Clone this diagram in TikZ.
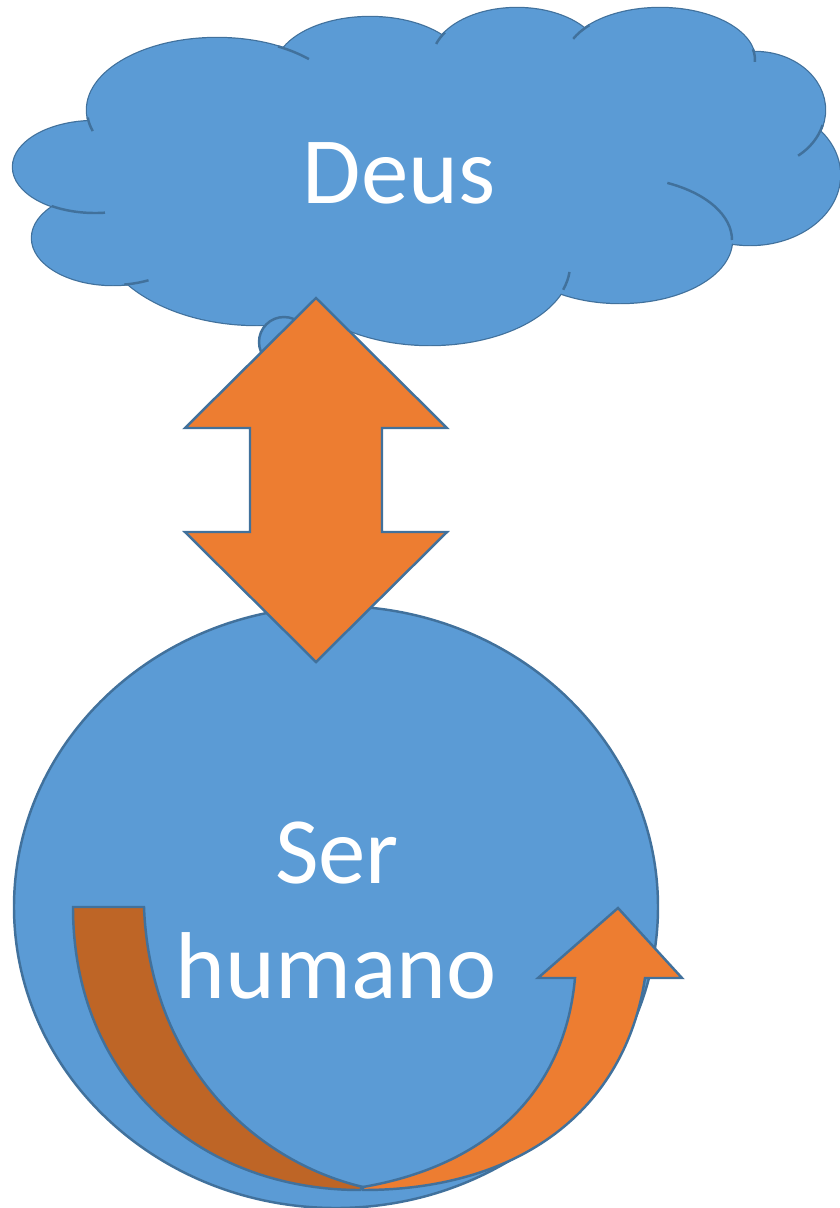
\documentclass[tikz,border=0pt]{standalone}
\usepackage{fontspec}
\setmainfont{Carlito}
\definecolor{skyfill}{HTML}{5B9BD5}
\definecolor{edgeblue}{HTML}{41719C}
\definecolor{arroworange}{HTML}{ED7D31}
\definecolor{arrowshade}{HTML}{BE6526}

\begin{document}
\begin{tikzpicture}
[x=0.01cm,y=0.01cm,line join=miter,%
  shape edge/.style={draw=edgeblue,line width=0.7pt},%
  puff/.style={shape edge,fill=skyfill},%
  puff fill/.style={fill=skyfill},%
  arrow body/.style={shape edge,fill=arroworange},%
  arrow back/.style={shape edge,fill=arrowshade},%
  every node/.style={text=white,inner sep=0pt,font=\fontsize{27}{32}\selectfont}]
\useasboundingbox (0,0) rectangle (840,-1208);
\foreach \cx/\cy/\rx/\ry in {217/110/130/72,370/70/95/53,517/60/85/52,660/60/95/52,
    755/110/70/58,750/175/90/70,620/240/112/63,430/265/140/80,257/225/160/100,
    113/238/81/47,95/167/82/46}
  \draw[puff] (\cx,-\cy) ellipse [x radius=\rx,y radius=\ry];
\foreach \cx/\cy/\rx/\ry in {217/110/130/72,370/70/95/53,517/60/85/52,660/60/95/52,
    755/110/70/58,750/175/90/70,620/240/112/63,430/265/140/80,257/225/160/100,
    113/238/81/47,95/167/82/46,430/175/320/110}
  \fill[puff fill] (\cx,-\cy) ellipse [x radius=\rx,y radius=\ry];
\draw[shape edge] (217,-110) ++(62:130 and 72) arc [start angle=62,end angle=45,x radius=130,y radius=72];
\draw[shape edge] (217,-110) ++(186:130 and 72) arc [start angle=186,end angle=197,x radius=130,y radius=72];
\draw[shape edge] (95,-167) ++(238:82 and 46) arc [start angle=238,end angle=277,x radius=82,y radius=46];
\draw[shape edge] (113,-238) ++(278:81 and 47) arc [start angle=278,end angle=296,x radius=81,y radius=47];
\draw[shape edge] (517,-60) ++(148:85 and 52) arc [start angle=148,end angle=162,x radius=85,y radius=52];
\draw[shape edge] (660,-60) ++(138:95 and 52) arc [start angle=138,end angle=156,x radius=95,y radius=52];
\draw[shape edge] (660,-60) ++(12:95 and 52) arc [start angle=12,end angle=-2,x radius=95,y radius=52];
\draw[shape edge] (755,-110) ++(-15:70 and 58) arc [start angle=-15,end angle=-52,x radius=70,y radius=58];
\draw[shape edge] (620,-240) ++(65:112 and 63) arc [start angle=65,end angle=0,x radius=112,y radius=63];
\draw[shape edge] (430,-265) ++(-5:140 and 80) arc [start angle=-5,end angle=-18,x radius=140,y radius=80];
\draw[puff] (284,-342) circle [radius=25];
\node[anchor=base] (deus) at (399,-203) {Deus};

\draw[puff] (336,-907) ellipse [x radius=322,y radius=301];
\draw[arrow back] (73,-907) -- (144,-907) .. controls (150,-1060) and (250,-1160) .. (363,-1187)
  -- (360,-1190) .. controls (200,-1190) and (73,-1080) .. cycle;
\draw[arrow body] (363,-1187) .. controls (490,-1165) and (565,-1090) .. (575,-978)
  -- (538,-978) -- (618,-908) -- (682,-978) -- (645,-978)
  .. controls (625,-1110) and (520,-1190) .. (363,-1190) -- cycle;
\node[anchor=base] (ser) at (337,-883) {Ser};
\node[anchor=base] (humano) at (336,-998) {humano};

\coordinate (godtip) at (316,-298);
\coordinate (mantip) at (316,-662);
\draw[arrow body] (godtip) -- ++(131,-130) -- ++(-65,0) -- ++(0,-104) -- ++(65,0) -- (mantip)
  -- ++(-131,130) -- ++(65,0) -- ++(0,104) -- ++(-65,0) -- cycle;
\end{tikzpicture}
\end{document}
